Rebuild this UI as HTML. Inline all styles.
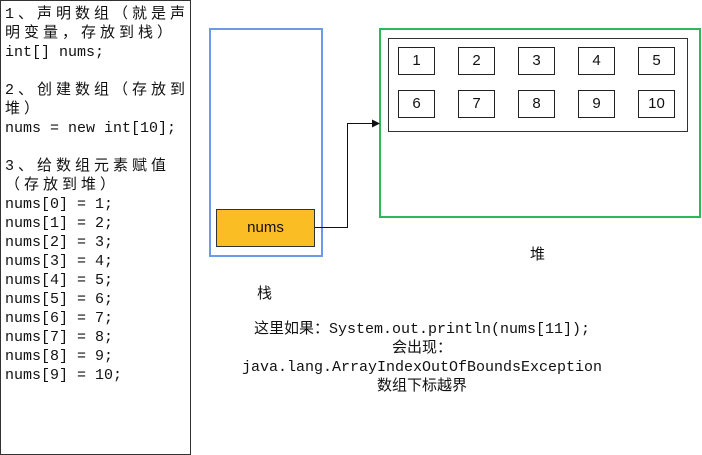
<!DOCTYPE html>
<html><head><meta charset="utf-8"><style>
body{margin:0;width:702px;height:455px;background:#fff;position:relative;overflow:hidden;font-family:"Liberation Mono","Noto Sans CJK SC",monospace;font-size:15px;color:#111}
.a{position:absolute;box-sizing:border-box}
.l{position:absolute;left:5px;white-space:pre;line-height:19px}
.c{letter-spacing:4px;font-size:15px}
.cell{position:absolute;width:37px;height:28px;border:1px solid #222;box-sizing:border-box;text-align:center;line-height:26px;font-family:"Liberation Sans",sans-serif;font-size:15px}
.t{position:absolute;white-space:pre;text-align:center}
</style></head><body>
<div class="a" style="left:0;top:0;width:191px;height:455px;border:1px solid #333"></div>
<div class="l c" style="top:5px">1、声明数组（就是声</div>
<div class="l c" style="top:24px">明变量，存放到栈）</div>
<div class="l" style="top:43px">int[] nums;</div>
<div class="l c" style="top:81px">2、创建数组（存放到</div>
<div class="l c" style="top:100px">堆）</div>
<div class="l" style="top:119px">nums = new int[10];</div>
<div class="l c" style="top:157px">3、给数组元素赋值</div>
<div class="l c" style="top:176px">（存放到堆）</div>
<div class="l" style="top:195px">nums[0] = 1;
nums[1] = 2;
nums[2] = 3;
nums[3] = 4;
nums[4] = 5;
nums[5] = 6;
nums[6] = 7;
nums[7] = 8;
nums[8] = 9;
nums[9] = 10;</div>
<div class="a" style="left:209px;top:28px;width:114px;height:229px;border:2px solid #6a9be8"></div>
<div class="a" style="left:216px;top:209px;width:99px;height:38px;border:1px solid #333;background:#fbbd24;text-align:center;line-height:36px;font-family:'Liberation Sans',sans-serif">nums</div>
<div class="a" style="left:379px;top:28px;width:322px;height:190px;border:2px solid #2db85a"></div>
<div class="a" style="left:388px;top:38px;width:300px;height:94px;border:1px solid #333"></div>
<div class="cell" style="left:398px;top:47px">1</div>
<div class="cell" style="left:458px;top:47px">2</div>
<div class="cell" style="left:518px;top:47px">3</div>
<div class="cell" style="left:578px;top:47px">4</div>
<div class="cell" style="left:638px;top:47px">5</div>
<div class="cell" style="left:398px;top:90px">6</div>
<div class="cell" style="left:458px;top:90px">7</div>
<div class="cell" style="left:518px;top:90px">8</div>
<div class="cell" style="left:578px;top:90px">9</div>
<div class="cell" style="left:638px;top:90px">10</div>
<svg class="a" style="left:0;top:0" width="702" height="455"><polyline points="315,227.5 347.5,227.5 347.5,123.5 373,123.5" fill="none" stroke="#111" stroke-width="1"/><polygon points="380,123.5 372,119.5 372,127.5" fill="#111"/></svg>
<div class="t" style="left:530px;top:243px;font-family:'Noto Sans CJK SC',sans-serif">堆</div>
<div class="t" style="left:257px;top:282px;font-family:'Noto Sans CJK SC',sans-serif">栈</div>
<div class="t" style="left:212px;top:320px;width:420px;line-height:19px">这里如果：System.out.println(nums[11]);
会出现：
java.lang.ArrayIndexOutOfBoundsException
数组下标越界</div>
</body></html>
